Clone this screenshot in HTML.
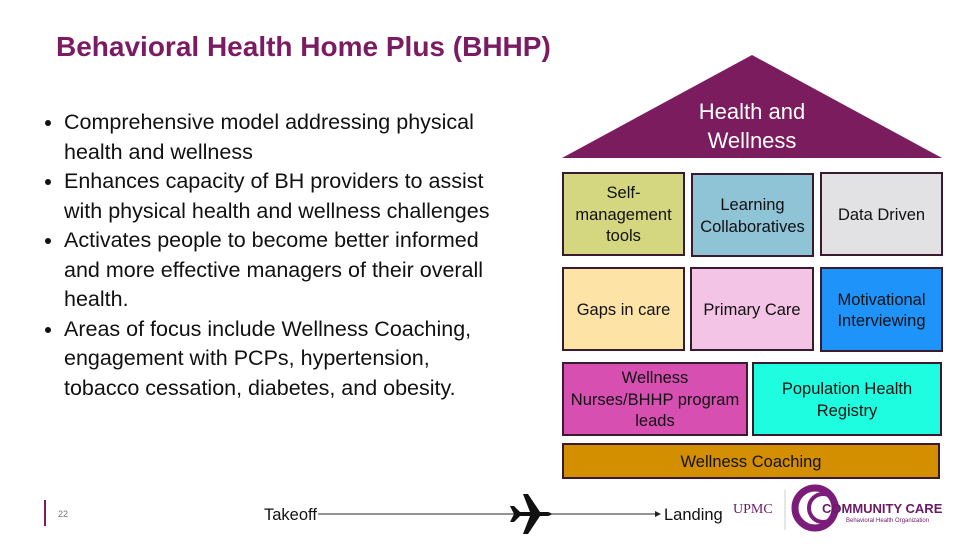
<!DOCTYPE html>
<html><head><style>
body{margin:0;width:975px;height:548px;background:#fff;position:relative;overflow:hidden;font-family:"Liberation Sans",sans-serif}
.t{position:absolute;left:56px;top:31px;font-size:28px;font-weight:bold;color:#7b1c63;white-space:nowrap}
ul{position:absolute;left:38px;top:108px;margin:0;padding:0 0 0 26px;font-size:21.5px;line-height:29.5px;color:#111;white-space:nowrap}
.b{position:absolute;box-sizing:border-box;border:2px solid #3a1a2e;display:flex;align-items:center;justify-content:center;text-align:center;font-size:16.5px;line-height:21.5px;color:#111;padding-top:3px}
</style></head><body>
<div class="t">Behavioral Health Home Plus (BHHP)</div>
<ul>
<li>Comprehensive model addressing physical<br>health and wellness</li>
<li>Enhances capacity of BH providers to assist<br>with physical health and wellness challenges</li>
<li>Activates people to become better informed<br>and more effective managers of their overall<br>health.</li>
<li>Areas of focus include Wellness Coaching,<br>engagement with PCPs, hypertension,<br>tobacco cessation, diabetes, and obesity.</li>
</ul>
<svg style="position:absolute;left:0;top:0" width="975" height="548">
<polygon points="752,55 562,158 942,158" fill="#7b1c5e"/>
<text x="752" y="119" text-anchor="middle" fill="#fff" font-size="22" font-family="Liberation Sans">Health and</text>
<text x="752" y="148" text-anchor="middle" fill="#fff" font-size="22" font-family="Liberation Sans">Wellness</text>
<line x1="45" y1="500" x2="45" y2="526" stroke="#7b1c63" stroke-width="2"/>
<text x="58" y="517" font-size="9" fill="#777" font-family="Liberation Sans">22</text>
<text x="264" y="520" font-size="16.5" fill="#111" font-family="Liberation Sans">Takeoff</text>
<line x1="318" y1="514" x2="655" y2="514" stroke="#555" stroke-width="1.2"/>
<polygon points="655,511 661,514 655,517" fill="#222"/>
<path d="M510,506 L514,506 L520,512 L530,512 L523,494 L528,494 L540,512 L548,512 Q555,514 548,516 L540,516 L528,534 L523,534 L530,516 L520,516 L514,522 L510,522 L514,514 Z" fill="#111"/>
<text x="664" y="520" font-size="16.5" fill="#111" font-family="Liberation Sans">Landing</text>
<text x="733" y="513" font-size="14" fill="#6b1a66" font-family="Liberation Serif">UPMC</text>
<line x1="785" y1="490" x2="785" y2="530" stroke="#ccc"/>
<circle cx="815" cy="508" r="20" fill="none" stroke="#7b1c7a" stroke-width="7"/>
<circle cx="823" cy="508" r="14" fill="none" stroke="#7b1c7a" stroke-width="4"/>
<text x="822" y="513" font-size="13" font-weight="bold" fill="#6b1a66" font-family="Liberation Sans">COMMUNITY CARE</text>
<text x="846" y="522" font-size="6" fill="#6b1a66" font-family="Liberation Sans">Behavioral Health Organization</text>
</svg>
<div class="b" style="left:562px;top:172px;width:123px;height:84px;background:#d4d680">Self-<br>management<br>tools</div>
<div class="b" style="left:691px;top:173px;width:123px;height:84px;background:#8fc3d6">Learning<br>Collaboratives</div>
<div class="b" style="left:820px;top:172px;width:123px;height:84px;background:#e2e2e4">Data Driven</div>
<div class="b" style="left:562px;top:267px;width:123px;height:84px;background:#fde4a6">Gaps in care</div>
<div class="b" style="left:690px;top:267px;width:124px;height:84px;background:#f3c4e6">Primary Care</div>
<div class="b" style="left:820px;top:267px;width:123px;height:85px;background:#1e93fa">Motivational<br>Interviewing</div>
<div class="b" style="left:562px;top:362px;width:186px;height:74px;background:#d84fb2">Wellness<br>Nurses/BHHP program<br>leads</div>
<div class="b" style="left:752px;top:362px;width:190px;height:74px;background:#1ffde0">Population Health<br>Registry</div>
<div class="b" style="left:562px;top:443px;width:378px;height:36px;background:#d48f00">Wellness Coaching</div>
</body></html>
